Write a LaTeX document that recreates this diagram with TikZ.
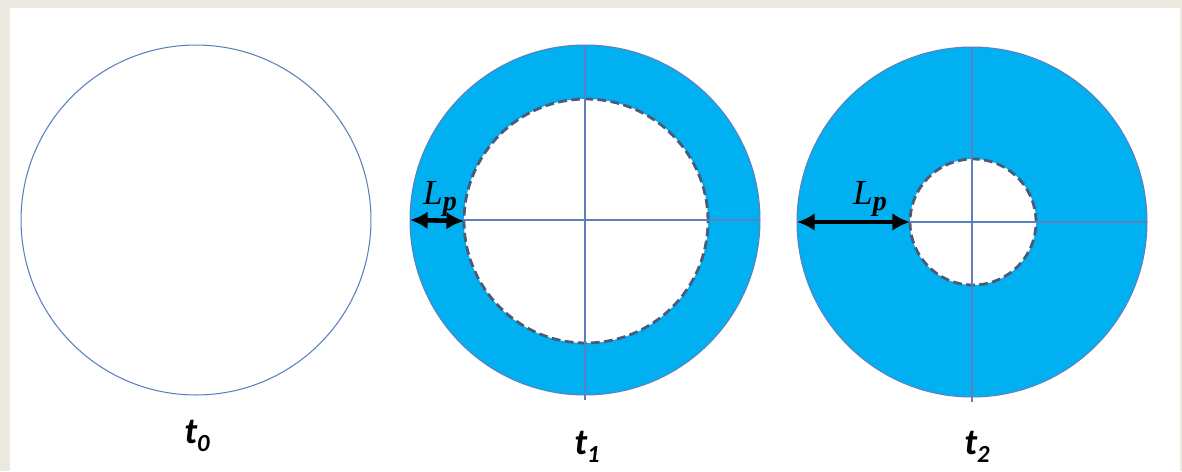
\documentclass[tikz,border=0pt]{standalone}
\usepackage{fontspec}
\usepackage{tikz}
\usetikzlibrary{arrows.meta}

\newfontfamily\tfont{Carlito}
\newfontfamily\lpfont{Liberation Serif}

\definecolor{frameBg}{HTML}{ECEAE0}
\definecolor{fillBlue}{HTML}{00B0F0}
\definecolor{rimBlue}{HTML}{5B7FBF}
\definecolor{dashGrey}{HTML}{4A5A78}

\tikzset{
  ring/.style={circle, draw=rimBlue, line width=0.6pt, inner sep=0pt, outer sep=0pt, minimum size=7cm},
  core/.style={circle, draw=dashGrey, dash pattern=on 5pt off 2.5pt, line width=1.6pt, fill=white, inner sep=0pt, outer sep=0pt},
  axis/.style={draw=rimBlue, line width=0.6pt},
  width arrow/.style={{Latex[length=10pt,width=10pt]}-{Latex[length=10pt,width=10pt]}, line width=2.6pt, black},
  stage/.style={font=\tfont\bfseries\itshape\fontsize{21}{24}\selectfont},
  lplabel/.style={font=\lpfont\itshape\fontsize{20}{22}\selectfont, inner sep=0pt},
}

\newcommand{\stagetext}[1]{t\raisebox{-0.45ex}{\fontsize{14}{16}\selectfont #1}}
\newcommand{\lptext}{L\raisebox{-0.4ex}{\fontsize{16}{18}\selectfont\bfseries p}}

\begin{document}
\begin{tikzpicture}[x=0.02cm, y=-0.02cm]
  % frame
  \fill[frameBg] (0,0) rectangle (1182,471);
  \fill[white] (10,8) rectangle (1180,471);
  \useasboundingbox (0,0) rectangle (1182,471);

  % t0
  \node[ring] (outer1) at (196,220) {};

  % t1
  \node[ring, fill=fillBlue] (outer2) at (585,220) {};
  \node[core, minimum size=4.88cm] (inner2) at (586,221) {};
  \draw[axis] (outer2.north) -- ([yshift=-3pt]outer2.south);
  \draw[axis] (outer2.west) -- (outer2.east);

  % t2
  \node[ring, fill=fillBlue] (outer3) at (972,222) {};
  \node[core, minimum size=2.52cm] (inner3) at (973,222) {};
  \draw[axis] (outer3.north) -- ([yshift=-3pt]outer3.south);
  \draw[axis] (outer3.west) -- (outer3.east);

  % penetration depth
  \draw[width arrow] (outer2.west) -- (inner2.west);
  \draw[width arrow] (outer3.west) -- (inner3.west);
  \node[lplabel] (lp2) at (440,199) {\lptext};
  \node[lplabel] (lp3) at (870,199) {\lptext};

  % time labels
  \node[stage] (t0) at (197,436) {\stagetext{0}};
  \node[stage] (t1) at (587,447) {\stagetext{1}};
  \node[stage] (t2) at (977,447) {\stagetext{2}};
\end{tikzpicture}
\end{document}
